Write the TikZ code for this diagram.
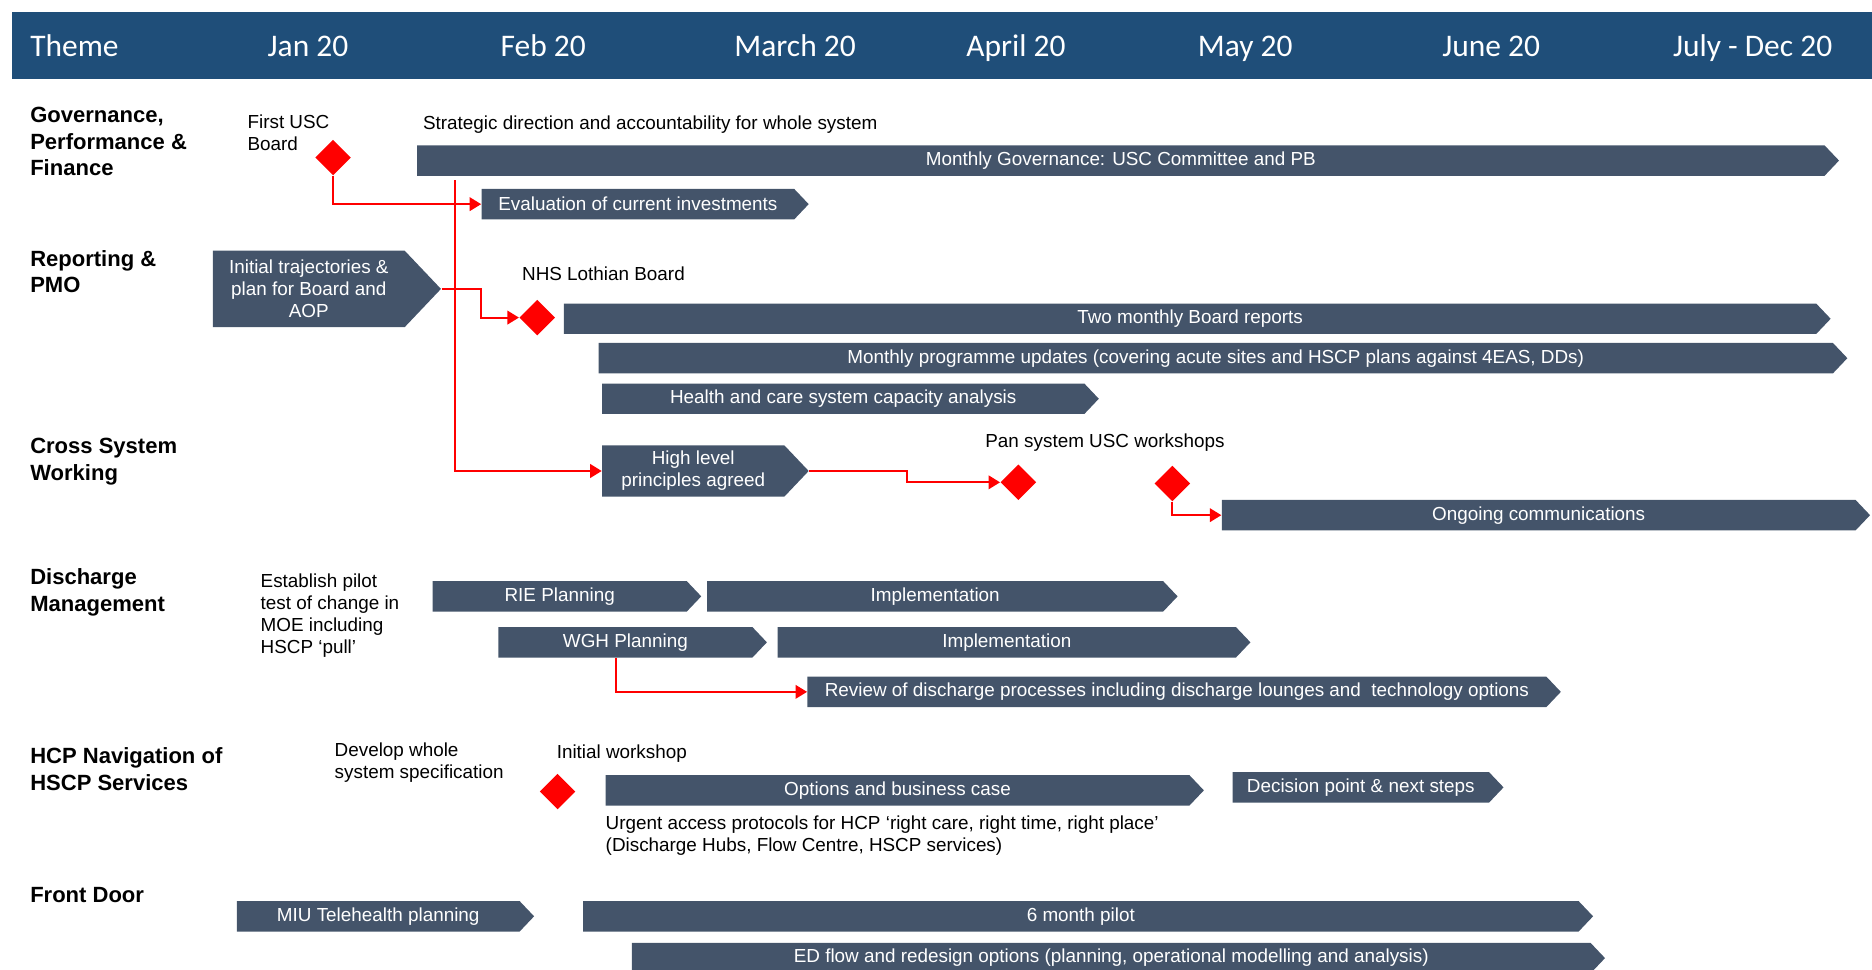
\documentclass[tikz,border=0pt]{standalone}
\usepackage{fontspec}
\setmainfont{Liberation Sans}
\newfontfamily\headfont{Carlito}
\usepackage{tikz}
\usetikzlibrary{shapes.symbols, shapes.geometric, arrows.meta}

\definecolor{headblue}{RGB}{31,78,121}
\definecolor{barslate}{RGB}{68,84,106}

\begin{document}
\begin{tikzpicture}[x=0.02cm, y=-0.02cm,
        bar/.style={signal, signal to=east, signal pointer angle=93, fill=barslate,
            text=white, inner sep=0pt, minimum height=0.51cm, minimum width=#1*0.02cm,
            anchor=west, align=center, font=\fontsize{9}{10.5}\selectfont},
        milestone/.style={diamond, aspect=1, fill=red, inner sep=0pt, minimum size=0.6cm},
        theme/.style={anchor=west, inner sep=0pt, align=left,
            font=\fontsize{10.5}{12.8}\selectfont\bfseries},
        note/.style={anchor=west, inner sep=0pt, align=left, font=\fontsize{9}{10.5}\selectfont},
        link/.style={red, line width=0.9pt, -{Triangle[length=5.5pt,width=6.5pt]}},
        month/.style={anchor=base, inner sep=0pt, text=white, font=\headfont\fontsize{15}{18}\selectfont}]
        \useasboundingbox (0,0) rectangle (1568,812);

        % Draw the header row
        \fill[headblue] (10,10) rectangle (1568,66);
        \node[month, anchor=base west] (theme) at (25,47.5) {Theme};
        \foreach \x/\m [count=\i] in {258/Jan 20, 455/Feb 20, 666/March 20, 851/April 20,
                1043/May 20, 1249/June 20, 1468/July - Dec 20}
            \node[month] (month\i) at (\x,47.5) {\m};

        % Draw the theme names
        \node[theme] (thgov) at (25,118.5) {Governance,\\Performance \&\\Finance};
        \node[theme] (threp) at (25,227.5) {Reporting \&\\PMO};
        \node[theme] (thcross) at (25,386.5) {Cross System\\Working};
        \node[theme] (thdis) at (25,496.5) {Discharge\\Management};
        \node[theme] (thhcp) at (25,644) {HCP Navigation of\\HSCP Services};
        \node[theme] (thfront) at (25,750) {Front Door};

        % Draw the free texts
        \node[note] (txtusc) at (207,111) {First USC\\Board};
        \node[note] (txtstrat) at (354,104) {Strategic direction and accountability for whole system};
        \node[note] (txtnhs) at (437,229) {NHS Lothian Board};
        \node[note] (txtpan) at (825,371) {Pan system USC workshops};
        \node[note] (txtpilot) at (218,516) {Establish pilot\\test of change in\\MOE including\\HSCP ‘pull’};
        \node[note] (txtspec) at (280,639) {Develop whole\\system specification};
        \node[note] (txtws) at (466,631) {Initial workshop};
        \node[note] (txturgent) at (507,700) {Urgent access protocols for HCP ‘right care, right time, right place’\\(Discharge Hubs, Flow Centre, HSCP services)};

        % Draw the activity bars
        \node[bar=1191] (gov) at (349,134.5) {Monthly Governance: USC Committee and PB};
        \node[bar=274] (evalinv) at (403,171) {Evaluation of current investments};
        \node[bar=191, minimum height=1.28cm] (traj) at (178,242) {Initial trajectories \&\\plan for Board and\\AOP};
        \node[bar=1061] (twomonth) at (472,267) {Two monthly Board reports};
        \node[bar=1046] (progupd) at (501,300) {Monthly programme updates (covering acute sites and HSCP plans against 4EAS, DDs)};
        \node[bar=416] (capacity) at (504,334) {Health and care system capacity analysis};
        \node[bar=173, minimum height=0.86cm] (highlevel) at (504,394.5) {High level\\principles agreed};
        \node[bar=543] (ongoing) at (1023,431.5) {Ongoing communications};
        \node[bar=225] (rieplan) at (362,499.5) {RIE Planning};
        \node[bar=394] (rieimpl) at (592,499.5) {Implementation};
        \node[bar=225] (wghplan) at (417,538) {WGH Planning};
        \node[bar=396] (wghimpl) at (651,538) {Implementation};
        \node[bar=631] (review) at (676,579.5) {Review of discharge processes including discharge lounges and~~technology options};
        \node[bar=501] (options) at (507,662) {Options and business case};
        \node[bar=227] (decision) at (1032,659.5) {Decision point \& next steps};
        \node[bar=249] (miu) at (198,767.5) {MIU Telehealth planning};
        \node[bar=846] (pilot) at (488,767.5) {6 month pilot};
        \node[bar=815] (edflow) at (529,802.5) {ED flow and redesign options (planning, operational modelling and analysis)};

        % Draw the milestones
        \node[milestone] (firstusc) at (279,132) {};
        \node[milestone] (nhsboard) at (450,266) {};
        \node[milestone] (panfirst) at (853,404) {};
        \node[milestone] (pansecond) at (982,405) {};
        \node[milestone] (initws) at (467,663) {};

        % Draw the red links
        \coordinate (drop) at (381,151);
        \draw[link] (firstusc.south) |- (evalinv.west);
        \draw[link] (drop) |- (highlevel.west);
        \draw[link] (traj.east) -- ++(33,0) |- (nhsboard.west);
        \draw[link] (highlevel.east) -- ++(82,0) |- (panfirst.west);
        \draw[link] (pansecond.south) |- (ongoing.west);
        \draw[link] ([xshift=-0.16cm]wghplan.south) |- (review.west);
    \end{tikzpicture}
\end{document}
